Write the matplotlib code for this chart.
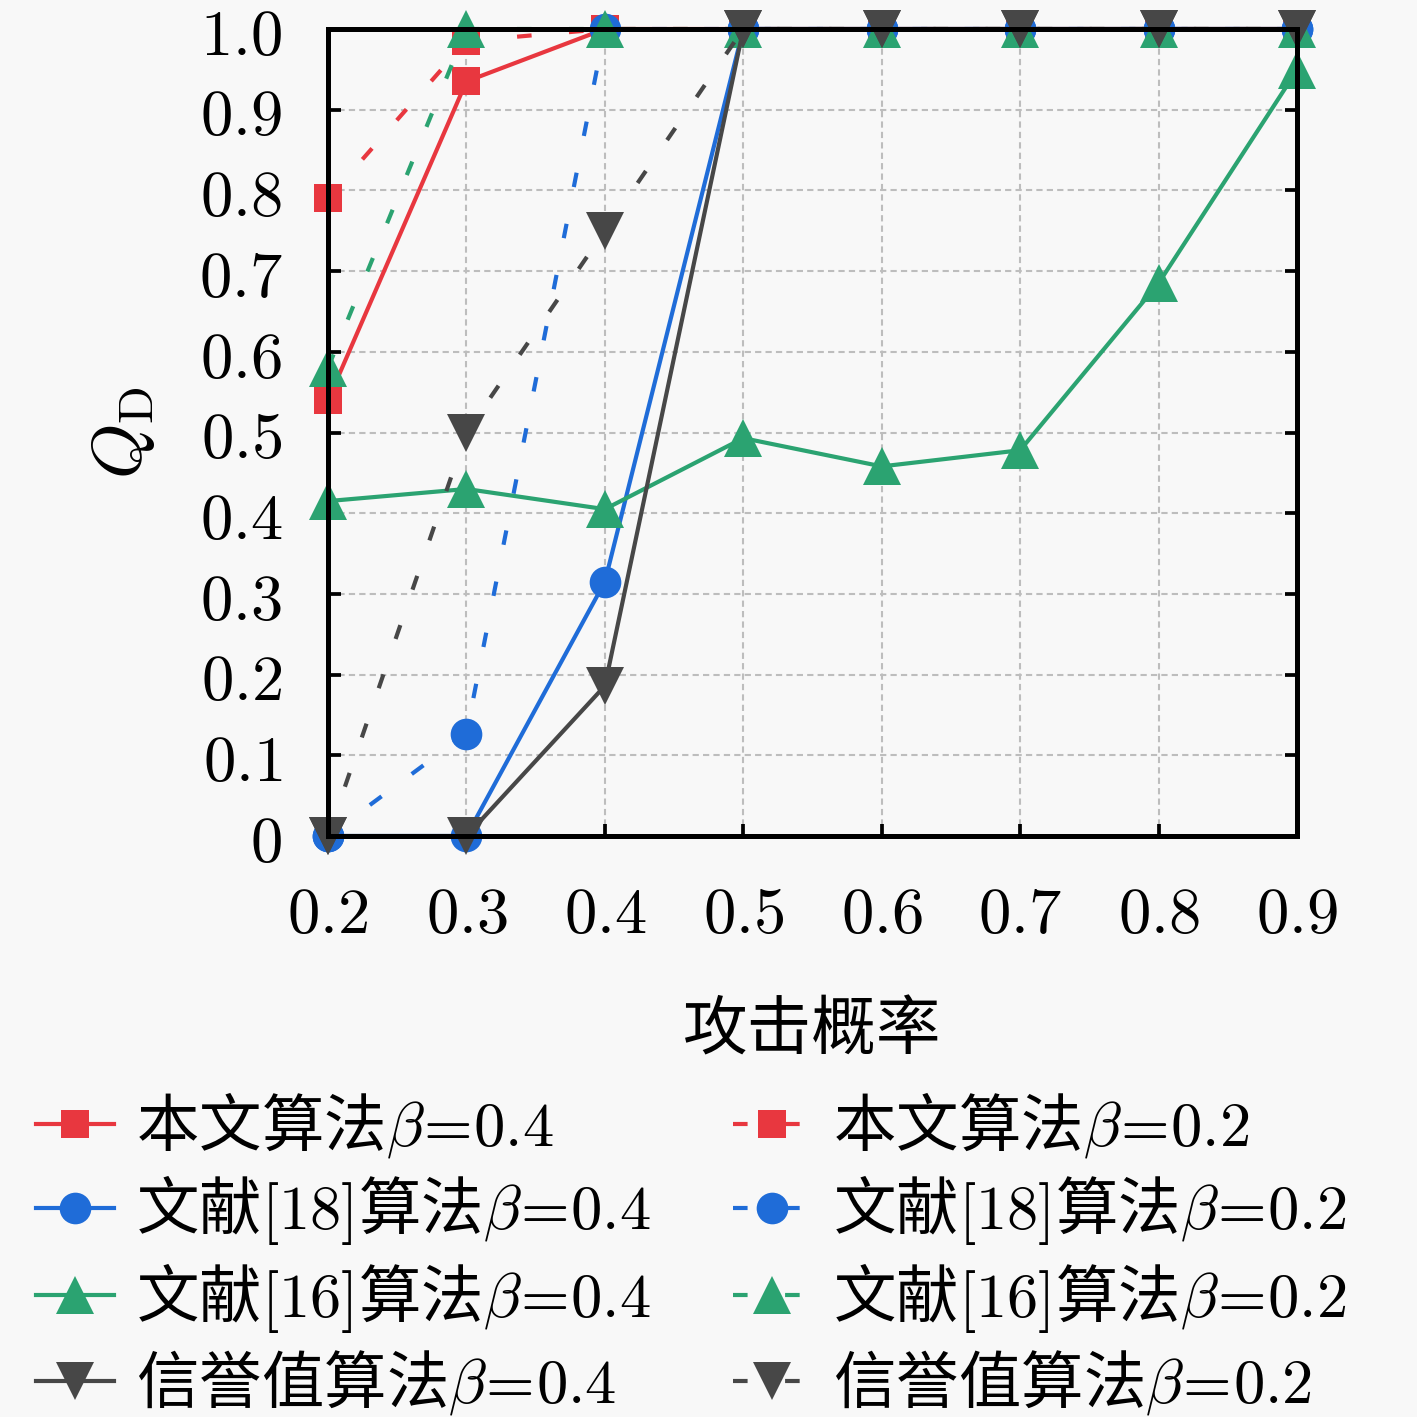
import matplotlib
matplotlib.use("Agg")
import matplotlib.pyplot as plt

plt.rcParams['font.family'] = ['Noto Sans CJK SC', 'DejaVu Sans']
plt.rcParams['mathtext.fontset'] = 'cm'

x = [0.2, 0.3, 0.4, 0.5, 0.6, 0.7, 0.8, 0.9]
xticklabels = ['$0.2$', '$0.3$', '$0.4$', '$0.5$', '$0.6$', '$0.7$', '$0.8$', '$0.9$']
yticks = [0, 0.1, 0.2, 0.3, 0.4, 0.5, 0.6, 0.7, 0.8, 0.9, 1.0]
yticklabels = ['$0$', '$0.1$', '$0.2$', '$0.3$', '$0.4$', '$0.5$', '$0.6$', '$0.7$', '$0.8$', '$0.9$', '$1.0$']

ours_b04 = [0.54, 0.935, 1.0, 1.0, 1.0, 1.0, 1.0, 1.0]
ours_b02 = [0.79, 0.985, 1.0, 1.0, 1.0, 1.0, 1.0, 1.0]
ref18_b04 = [0.0, 0.0, 0.315, 1.0, 1.0, 1.0, 1.0, 1.0]
ref18_b02 = [0.0, 0.127, 1.0, 1.0, 1.0, 1.0, 1.0, 1.0]
ref16_b04 = [0.415, 0.43, 0.405, 0.493, 0.458, 0.478, 0.685, 0.949]
ref16_b02 = [0.58, 1.0, 1.0, 1.0, 1.0, 1.0, 1.0, 1.0]
rep_b04 = [0.0, 0.0, 0.186, 1.0, 1.0, 1.0, 1.0, 1.0]
rep_b02 = [0.0, 0.5, 0.75, 1.0, 1.0, 1.0, 1.0, 1.0]

lab = [
    '本文算法$\\beta\\!=\\!0.4$', '本文算法$\\beta\\!=\\!0.2$',
    '文献$[18]$算法$\\beta\\!=\\!0.4$', '文献$[18]$算法$\\beta\\!=\\!0.2$',
    '文献$[16]$算法$\\beta\\!=\\!0.4$', '文献$[16]$算法$\\beta\\!=\\!0.2$',
    '信誉值算法$\\beta\\!=\\!0.4$', '信誉值算法$\\beta\\!=\\!0.2$',
]

red = '#e8373f'
blue = '#1f6cd8'
green = '#2ba371'
dark = '#474747'
bg = '#f8f8f8'

W = 1417
fig = plt.figure(figsize=(W / 300, W / 300), dpi=300, facecolor=bg)
ax = fig.add_axes([328 / W, 1 - 836 / W, (1297 - 328) / W, (836 - 29) / W])
ax.set_facecolor(bg)

lw = 1.0
dash = (0, (3.5, 9))
series = [
    (ours_b04, red, 's', 6.8, '-'),
    (ours_b02, red, 's', 6.8, dash),
    (ref18_b04, blue, 'o', 7.6, '-'),
    (ref18_b02, blue, 'o', 7.6, dash),
    (ref16_b04, green, '^', 9, '-'),
    (ref16_b02, green, '^', 9, dash),
    (rep_b04, dark, 'v', 9, '-'),
    (rep_b02, dark, 'v', 9, dash),
]
handles = []
for (ys, c, m, ms, ls), l in zip(series, lab):
    h, = ax.plot(x, ys, color=c, marker=m, markersize=ms, linestyle=ls,
                 linewidth=lw, markeredgewidth=0, clip_on=False, label=l)
    handles.append(h)

ax.set_xlim(0.2, 0.9)
ax.set_ylim(0, 1.0)
ax.set_xticks(x)
ax.set_xticklabels(xticklabels)
ax.set_yticks(yticks)
ax.set_yticklabels(yticklabels)
ax.tick_params(direction='in', length=3, width=0.9, top=True, right=True,
               labelsize=15.5, pad=11)
for s in ax.spines.values():
    s.set_linewidth(1.2)
ax.grid(True, color='#bdbdbd', linestyle=(0, (3, 2)), linewidth=0.5)

ax.set_xlabel('攻击概率', fontsize=15.5, labelpad=12)
ax.set_ylabel('$Q_{\\mathrm{D}}$', fontsize=17, labelpad=10)

kw = dict(frameon=False, fontsize=15, handlelength=1.25, handletextpad=0.35,
          labelspacing=0.215, borderaxespad=0, borderpad=0, loc='upper left')
leg1 = fig.legend(handles[0::2], lab[0::2], bbox_to_anchor=(36 / W, 1 - 1090 / W), **kw)
leg2 = fig.legend(handles[1::2], lab[1::2], bbox_to_anchor=(733 / W, 1 - 1090 / W), **kw)

fig.savefig('out.png', dpi=300, facecolor=bg)
